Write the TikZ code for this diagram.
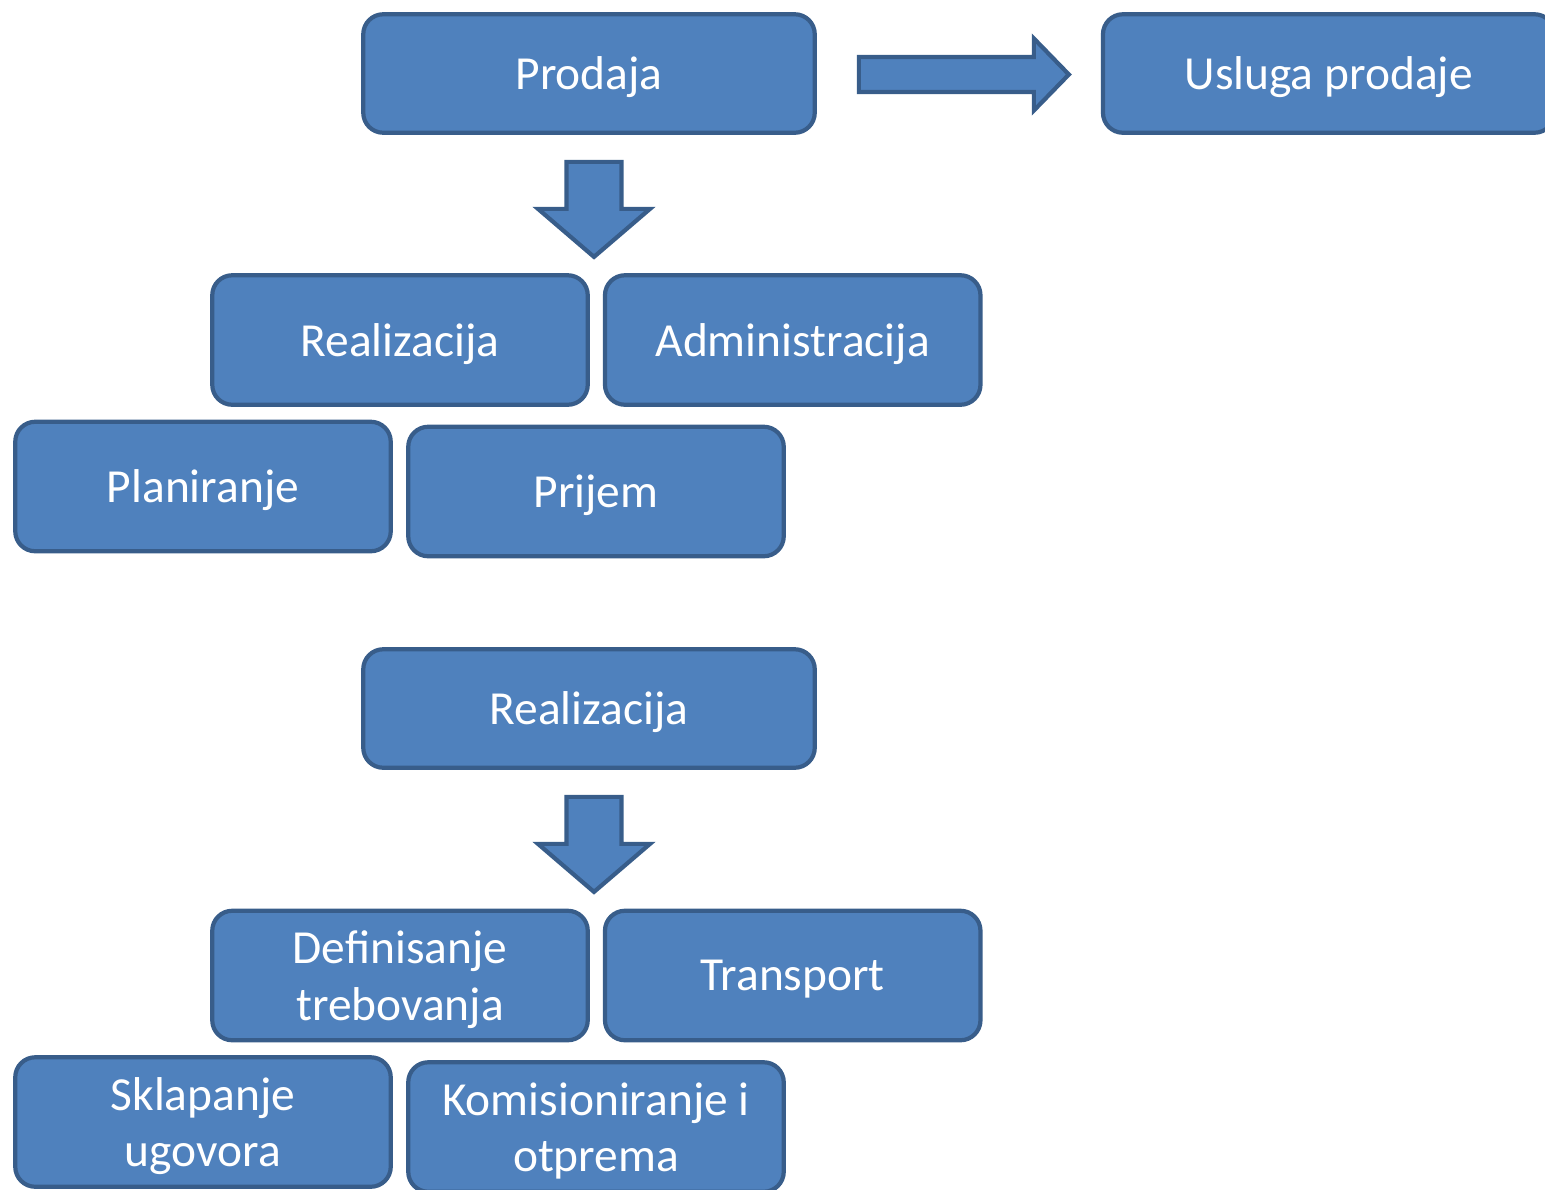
\documentclass[tikz,border=0pt]{standalone}
\usepackage{fontspec}
\setmainfont{Carlito}
\usetikzlibrary{positioning}
\definecolor{blokplava}{HTML}{4F81BD}
\definecolor{blokrub}{HTML}{385D8A}

\begin{document}
\begin{tikzpicture}[
    blok/.style={draw=blokrub, fill=blokplava, line width=2.4pt, rounded corners=0.4cm,
        text=white, align=center, font=\fontsize{27}{32}\selectfont, text depth=0pt,
        minimum width=9.03cm, minimum height=2.37cm, inner sep=0pt},
    mali/.style={blok, minimum width=7.51cm, minimum height=2.59cm},
    strelica/.style={draw=blokrub, fill=blokplava, line width=2.4pt, line join=miter},
]
    \useasboundingbox (0,0) rectangle (30.9,-23.78);

    \node [blok] (prodaja) at (11.78,-1.47) {Prodaja};
    \node [blok, right=5.68cm of prodaja] (usluga) {Usluga prodaje};

    \node [mali] (real) at (8.0,-6.8) {Realizacija};
    \node [mali, right=0.26cm of real] (admin) {Administracija};
    \node [mali] (plan) at (4.06,-9.73) {Planiranje};
    \node [mali] (prijem) at (11.92,-9.83) {Prijem};

    \node [blok] (realb) at (11.78,-14.17) {Realizacija};

    \node [mali] (defin) at (8.0,-19.51) {Definisanje\\trebovanja};
    \node [mali, right=0.26cm of defin] (transport) {Transport};
    \node [mali] (sklap) at (4.06,-22.44) {Sklapanje\\ugovora};
    \node [mali] (komis) at (11.92,-22.54) {Komisioniranje i\\otprema};

    % blok strelice
    \coordinate [right=0.84cm of prodaja, yshift=-0.02cm] (desno);
    \coordinate [below=0.54cm of prodaja, xshift=0.1cm] (dolje);
    \coordinate [below=0.54cm of realb, xshift=0.1cm] (doljeb);

    \draw [strelica] (desno) ++(0,0.35) -- ++(3.5,0) -- ++(0,0.37) -- ++(0.7,-0.72)
        -- ++(-0.7,-0.72) -- ++(0,0.37) -- ++(-3.5,0) -- cycle;
    \foreach \v in {dolje,doljeb}
        \draw [strelica] (\v) ++(-0.55,0) -- ++(1.1,0) -- ++(0,-0.94) -- ++(0.57,0)
            -- ++(-1.12,-0.96) -- ++(-1.12,0.96) -- ++(0.57,0) -- cycle;
\end{tikzpicture}
\end{document}
